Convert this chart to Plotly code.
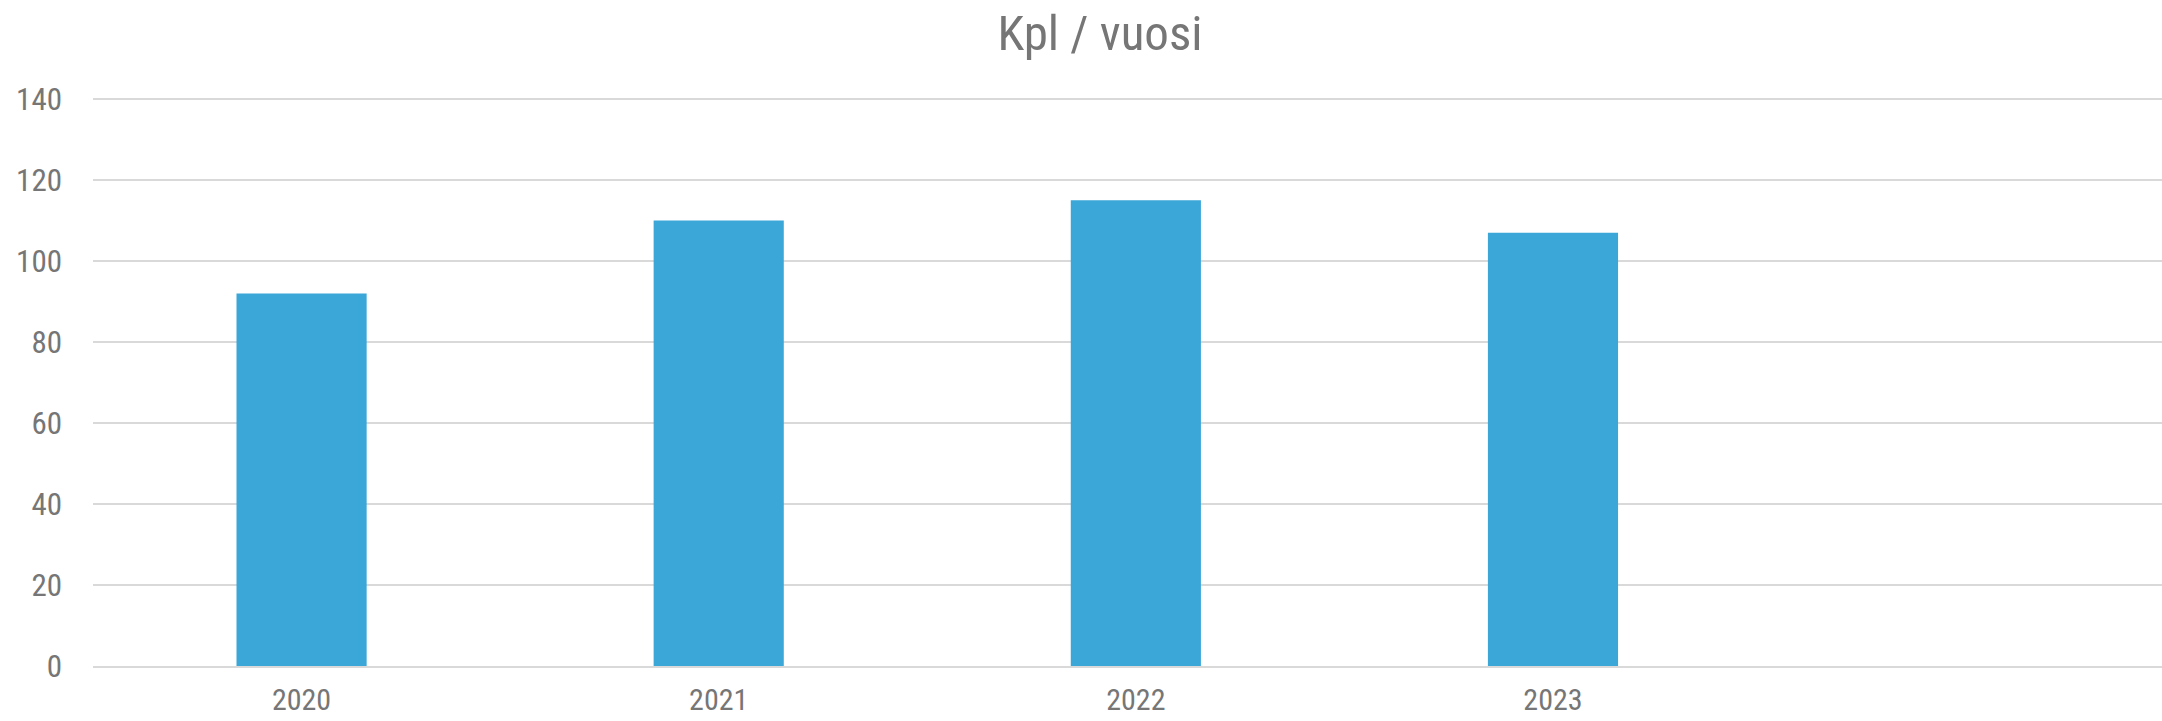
import plotly.graph_objects as go

years = ["2020", "2021", "2022", "2023"]
counts = [92, 110, 115, 107]
y_ticks = [0, 20, 40, 60, 80, 100, 120, 140]

FONT = "Liberation Sans Narrow, Roboto Condensed, Roboto, sans-serif"
TXT = "#767676"

fig = go.Figure(
    go.Bar(x=years, y=counts, marker=dict(color="#3BA6D8", line=dict(width=0)))
)

fig.update_layout(
    width=2162,
    height=721,
    paper_bgcolor="white",
    plot_bgcolor="white",
    bargap=0.688,
    showlegend=False,
    margin=dict(l=93, r=0, t=97, b=55, autoexpand=False),
    title=dict(
        text="Kpl / vuosi",
        x=1100 / 2162,
        xanchor="center",
        y=1 - 33 / 721,
        yanchor="middle",
        font=dict(family=FONT, size=49, color=TXT),
    ),
    font=dict(family=FONT, size=31, color=TXT),
)

fig.update_yaxes(
    range=[0, 140.5],
    tickvals=y_ticks,
    showgrid=True,
    gridcolor="#D9D9D9",
    gridwidth=2,
    zeroline=False,
    showline=False,
    ticks="",
    automargin=False,
    ticklabelstandoff=30,
    tickfont=dict(family=FONT, size=31, color=TXT),
)

fig.update_xaxes(
    type="category",
    range=[-0.5, 4.46],
    showgrid=False,
    showline=True,
    linecolor="#D9D9D9",
    linewidth=2,
    ticks="",
    automargin=False,
    ticklabelstandoff=6,
    tickfont=dict(family=FONT, size=30, color=TXT),
)

fig.write_html(
    "out.html",
    config={"displayModeBar": False},
    post_script="document.body.style.margin='0';document.body.style.overflow='hidden';",
)
